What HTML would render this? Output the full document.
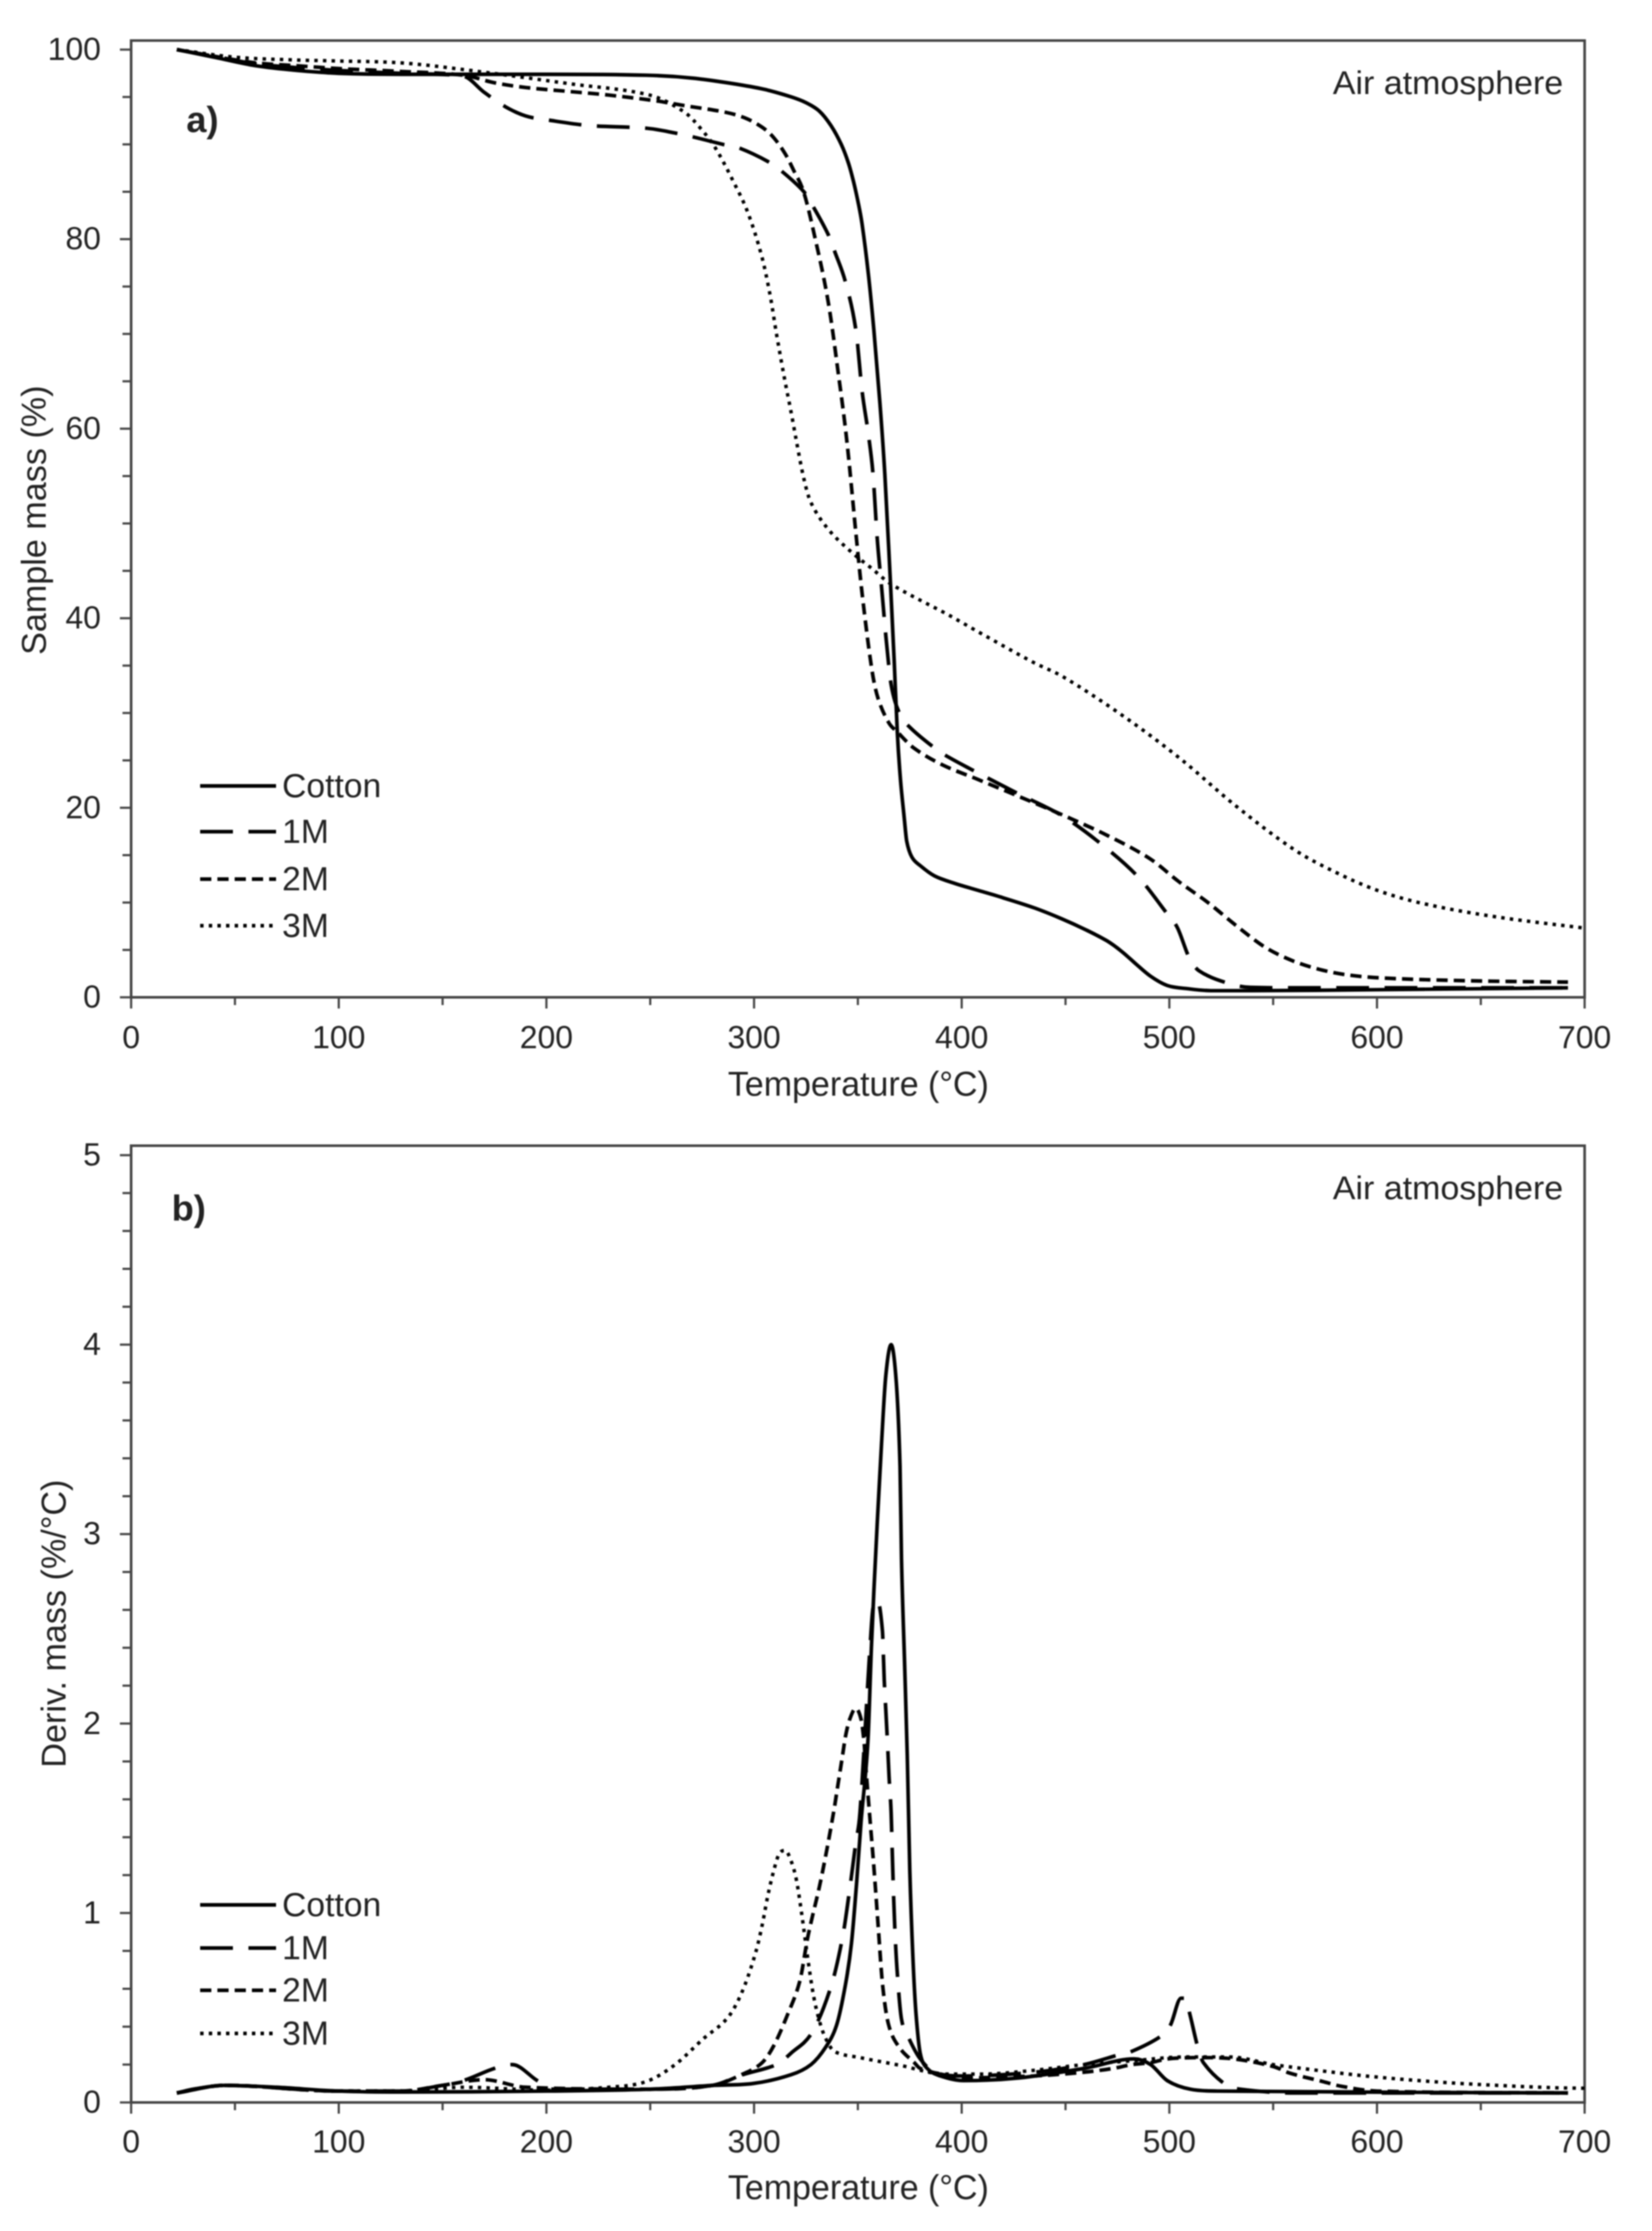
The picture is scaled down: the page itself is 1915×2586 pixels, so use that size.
<!DOCTYPE html>
<html lang="en">
<head>
<meta charset="utf-8">
<title>TGA and DTG curves in air atmosphere</title>
<style>
html,body{margin:0;padding:0;background:#fff;}
#figure{display:block;width:1915px;height:2586px;filter:blur(0.7px);background:#fff;}
text{font-family:"Liberation Sans",Arial,sans-serif;fill:#222;}
</style>
</head>
<body>
<svg id="figure" xmlns="http://www.w3.org/2000/svg" width="1915" height="2586" viewBox="0 0 1915 2586"></svg>
<script>
// ---------- axis ticks ----------
const tempTickLabels = [0, 100, 200, 300, 400, 500, 600, 700];
const massTickLabels = [0, 20, 40, 60, 80, 100];
const derivTickLabels = [0, 1, 2, 3, 4, 5];
const seriesNames = ['Cotton', '1M', '2M', '3M'];

// ---------- panel a: sample mass (%) ----------
const cottonMassTemp = [22,40,60,80,100,130,160,200,248,270,290,305,318,325,331.5,337,342,345.5,348,350,352,355,357.7,360.6,363,365.5,367.5,369,370.5,372.3,373.5,376,380,387,397,407.7,420,435.4,448,460,470,477,484,490.8,499,509,520,540,600,692];
const cottonMass = [100,99.2,98.3,97.8,97.5,97.4,97.4,97.4,97.3,97,96.4,95.8,95,94.4,93.5,92,90,88,86,84,81.6,76.4,70.4,62.7,55.2,44.5,35.4,27.9,23,19,16.5,14.8,13.9,12.8,12,11.3,10.5,9.4,8.3,7.1,5.95,4.85,3.5,2.25,1.25,0.9,0.7,0.7,0.8,1];

const m1MassTemp = [22,40,60,80,100,130,160,170,180,190,200,220,248.4,262,270.5,285,293,306.6,313.7,324,328.6,335.7,339,344,349,352,355,357.3,359.3,361.4,363.5,366,370,375,387,394,407.7,427,448,467,485,499,504,509.5,514.3,528,539,560,692];
const m1Mass = [100,99.3,98.5,98.1,97.8,97.5,97.2,95.5,94,93,92.6,92,91.7,91.2,90.8,90,89.6,88.2,87.1,85,83.4,80.5,78.6,75.5,70.5,64,59.5,55.2,48.5,43.3,38.1,33,30,28.5,26.3,25.3,23.7,21.5,19.2,16.2,12.7,8.8,7.3,4.2,2.8,1.5,1.05,1,1];

const m2MassTemp = [22,40,60,80,100,130,160,175,190,210,230,252.6,269,286,295.5,304,309.5,315,319,324,329.5,335.7,340.6,344.8,349,352.3,356.8,359.8,364.8,369,377,391,407.7,434,449,470,490.8,504.6,518.6,532,546,560,574,588,606,643,692];
const m2Mass = [100,99.3,98.6,98.3,98,97.7,97.3,96.5,96,95.6,95.2,94.6,94,93.4,92.8,91.8,90.7,89,87.3,84.9,80,73.4,65.8,58.5,49.1,42.1,34.5,31.5,29,28,26.3,24.5,23,20.6,19.2,17.1,14.6,12.2,10,7.6,5.3,3.8,2.85,2.3,2,1.75,1.6];

const m3MassTemp = [22,50,80,100,130,160,211,249.7,266.5,274.6,281.7,290,297,303.7,307.8,310.8,315,317.8,320.3,324,327.4,335.7,346.8,356.4,366,394,407.7,434,449,477,504.6,532,560,580,600,622,657,700];
const m3Mass = [100,99.2,98.9,98.8,98.6,97.9,96.4,95.2,93.4,91.6,89.5,86.1,82.8,78.2,74,70,64.9,61.8,58.8,54.7,52.2,49.4,47,45.3,43.6,40.3,38.6,35.4,33.8,29.8,25.3,20.2,15.6,13.2,11.3,9.9,8.5,7.3];

// ---------- panel b: derivative mass (%/°C) ----------
const cottonDerivTemp = [22,30,45,70,100,130,200,250,280,299.6,317.8,327.4,334.4,339.8,344,346.9,349.4,351.5,354.8,356.5,357.7,359.3,361.4,363.4,366,368.5,370.3,371,372.4,373.8,375,376.5,378,380,383.4,389.7,400.9,428,459,483,491,499,510,523,692];
const cottonDeriv = [0.05,0.07,0.09,0.08,0.06,0.055,0.06,0.07,0.09,0.1,0.146,0.2,0.29,0.41,0.62,0.84,1.16,1.48,1.9,2.4,2.7,3.05,3.48,3.83,4,3.8,3.36,2.87,2.35,1.83,1.23,0.77,0.47,0.26,0.18,0.14,0.115,0.13,0.18,0.23,0.2,0.115,0.07,0.06,0.05];

const m1DerivTemp = [22,45,100,130,150,160,175,183.6,195.6,203,250,280,294,310.8,317.8,328,337,342.6,346,349,351,354.9,355.7,357.3,359.4,361.8,362.7,364,365,366,366.8,367.7,369,371,374.5,380,387,401,435.4,459,473.6,482,496,500.6,505.6,507.7,510,513.5,516.4,527,534,560,692];
const m1Deriv = [0.05,0.09,0.06,0.06,0.09,0.115,0.18,0.2,0.115,0.07,0.07,0.09,0.145,0.2,0.26,0.37,0.61,0.87,1.12,1.37,1.53,2.23,2.38,2.61,2.65,2.49,2.23,1.96,1.72,1.53,1.23,0.94,0.68,0.44,0.34,0.23,0.16,0.14,0.16,0.2,0.245,0.27,0.35,0.41,0.55,0.55,0.46,0.3,0.21,0.095,0.07,0.05,0.05];

const m2DerivTemp = [22,45,100,130,150,170,190,250,280,295.6,303.9,309.5,316,322,326,331.5,335,338.6,340,342.6,344,346,349,351.6,353,353.6,355.8,357.8,359.8,361.9,364.8,370,377.2,380,390,401,435,459,473,482,491,499,515,531,550,558,574,583,600,692];
const m2Deriv = [0.05,0.09,0.06,0.06,0.09,0.12,0.08,0.07,0.09,0.155,0.21,0.3,0.46,0.64,0.88,1.14,1.33,1.55,1.65,1.83,1.93,2.02,2.08,2.02,1.9,1.8,1.5,1.23,0.93,0.62,0.41,0.29,0.21,0.18,0.15,0.13,0.14,0.16,0.18,0.2,0.21,0.23,0.237,0.23,0.19,0.155,0.11,0.085,0.06,0.05];

const m3DerivTemp = [22,45,100,130,160,200,230,248,262,276,285,290,295.6,301,304,306.6,309.4,312,315,318,320.5,323,326,328.7,331.5,334.4,338.6,351,373,380,391,410,435,459,482,507,529,550,571,594.5,626.5,658,685,700];
const m3Deriv = [0.05,0.09,0.06,0.06,0.08,0.065,0.08,0.11,0.2,0.34,0.42,0.49,0.62,0.8,0.94,1.09,1.22,1.31,1.33,1.27,1.17,0.99,0.75,0.56,0.43,0.34,0.27,0.237,0.19,0.17,0.15,0.15,0.17,0.2,0.22,0.24,0.24,0.2,0.17,0.14,0.11,0.09,0.078,0.075];

// ---------- axis functions ----------
const NS = 'http://www.w3.org/2000/svg';
const root = document.getElementById('figure');
const xTemp = t => 152 + t * 2.407;
const yMass = v => 1156 - v * 10.985;
const yDeriv = v => 2437 - v * 219.6;
const AXIS = '#444';
const dashes = { 'Cotton': 'none', '1M': '38 18', '2M': '13 7', '3M': '4 6' };

function node(tag, attrs, parent, txt) {
  const el = document.createElementNS(NS, tag);
  for (const k in attrs) el.setAttribute(k, attrs[k]);
  if (txt !== undefined) el.textContent = txt;
  parent.appendChild(el);
  return el;
}

// limited central-difference cubic path: smooth through points without overshoot
function curvePath(xs, ys) {
  const n = xs.length, d = [], m = [];
  for (let i = 0; i < n - 1; i++) d.push((ys[i + 1] - ys[i]) / (xs[i + 1] - xs[i]));
  m[0] = d[0];
  m[n - 1] = d[n - 2];
  for (let i = 1; i < n - 1; i++) {
    if (d[i - 1] * d[i] <= 0) {
      m[i] = 0;
    } else {
      const c = (ys[i + 1] - ys[i - 1]) / (xs[i + 1] - xs[i - 1]);
      const lim = 3 * Math.min(Math.abs(d[i - 1]), Math.abs(d[i]));
      m[i] = Math.sign(c) * Math.min(Math.abs(c), lim);
    }
  }
  let p = 'M' + xs[0].toFixed(1) + ' ' + ys[0].toFixed(1);
  for (let i = 0; i < n - 1; i++) {
    const h = (xs[i + 1] - xs[i]) / 3;
    p += 'C' + (xs[i] + h).toFixed(1) + ' ' + (ys[i] + m[i] * h).toFixed(1) + ' ' +
         (xs[i + 1] - h).toFixed(1) + ' ' + (ys[i + 1] - m[i + 1] * h).toFixed(1) + ' ' +
         xs[i + 1].toFixed(1) + ' ' + ys[i + 1].toFixed(1);
  }
  return p;
}

function drawPanel(cfg) {
  const g = node('g', {}, root);
  
  

  const frame = node('rect', { x: xTemp(0), y: cfg.top, width: xTemp(700) - xTemp(0), height: cfg.y(0) - cfg.top, fill: 'none', stroke: AXIS, 'stroke-width': 3 }, g);
  
  

  // y ticks
  const yMax = cfg.yLabels[cfg.yLabels.length - 1];
  for (let k = 0; k <= Math.round(yMax / cfg.yMinor); k++) {
    const v = k * cfg.yMinor;
    const isMajor = Math.abs(v / cfg.yMajor - Math.round(v / cfg.yMajor)) < 1e-6;
    const t = node('line', { x1: isMajor ? 139 : 142, x2: xTemp(0), y1: cfg.y(v), y2: cfg.y(v), stroke: AXIS, 'stroke-width': 2.5 }, g);
    
    
  }
  cfg.yLabels.forEach(v => {
    const l = node('text', { x: 117, y: cfg.y(v) + 12, 'text-anchor': 'end', 'font-size': 37 }, g, String(v));
    
    
  });

  // x ticks
  for (let T = 0; T <= 700; T += 50) {
    const isMajor = T % 100 === 0;
    const t = node('line', { x1: xTemp(T), x2: xTemp(T), y1: cfg.y(0), y2: cfg.y(0) + (isMajor ? 13 : 9), stroke: AXIS, 'stroke-width': 2.5 }, g);
    
    
  }
  tempTickLabels.forEach(T => {
    const l = node('text', { x: xTemp(T), y: cfg.y(0) + cfg.xLabelDy, 'text-anchor': 'middle', 'font-size': 37 }, g, String(T));
    
    
  });

  // titles and annotations
  const xt = node('text', { x: 995, y: cfg.y(0) + cfg.xTitleDy, 'text-anchor': 'middle', 'font-size': 39.4 }, g, 'Temperature (°C)');
  
  

  const yt = node('text', { 'text-anchor': 'middle', 'font-size': 39.6, transform: 'translate(' + cfg.yTitleX + ' ' + cfg.yTitleY + ') rotate(-90)' }, g, cfg.yTitle);
  
  

  const at = node('text', { x: 1812, y: cfg.top + 62, 'text-anchor': 'end', 'font-size': 38, textLength: 267, lengthAdjust: 'spacingAndGlyphs' }, g, 'Air atmosphere');
  
  

  const pl = node('text', { x: cfg.tagX, y: cfg.tagY, 'font-size': 42, 'font-weight': 'bold' }, g, cfg.tag);
  
  

  // series
  seriesNames.forEach((name, i) => {
    const xs = cfg.temps[i].map(xTemp);
    const ys = cfg.values[i].map(cfg.y);
    const c = node('path', { d: curvePath(xs, ys), fill: 'none', stroke: '#000', 'stroke-width': name === '3M' ? 4 : 4.2, 'stroke-dasharray': dashes[name], 'stroke-linejoin': 'round' }, g);
    
    
  });

  // legend
  seriesNames.forEach((name, i) => {
    const ly = cfg.legendY[i];
    const ln = node('line', { x1: 232, x2: 320, y1: ly, y2: ly, stroke: '#000', 'stroke-width': 4.2, 'stroke-dasharray': dashes[name] }, g);
    
    
    const tx = node('text', { x: 327, y: ly + 13, 'font-size': 39 }, g, name);
    
    
  });
}

drawPanel({
  id: 'mass', top: 47, y: yMass, yLabels: massTickLabels, yMajor: 20, yMinor: 5,
  yTitle: 'Sample mass (%)', yTitleX: 53, yTitleY: 603,
  xLabelDy: 59, xTitleDy: 114,
  tag: 'a)', tagX: 216, tagY: 153,
  temps: [cottonMassTemp, m1MassTemp, m2MassTemp, m3MassTemp],
  values: [cottonMass, m1Mass, m2Mass, m3Mass],
  legendY: [911, 964, 1019, 1073]
});

drawPanel({
  id: 'deriv', top: 1328, y: yDeriv, yLabels: derivTickLabels, yMajor: 1, yMinor: 0.2,
  yTitle: 'Deriv. mass (%/°C)', yTitleX: 76, yTitleY: 1882,
  xLabelDy: 58, xTitleDy: 112,
  tag: 'b)', tagX: 199, tagY: 1415,
  temps: [cottonDerivTemp, m1DerivTemp, m2DerivTemp, m3DerivTemp],
  values: [cottonDeriv, m1Deriv, m2Deriv, m3Deriv],
  legendY: [2208, 2258, 2307, 2357]
});
</script>
</body>
</html>
